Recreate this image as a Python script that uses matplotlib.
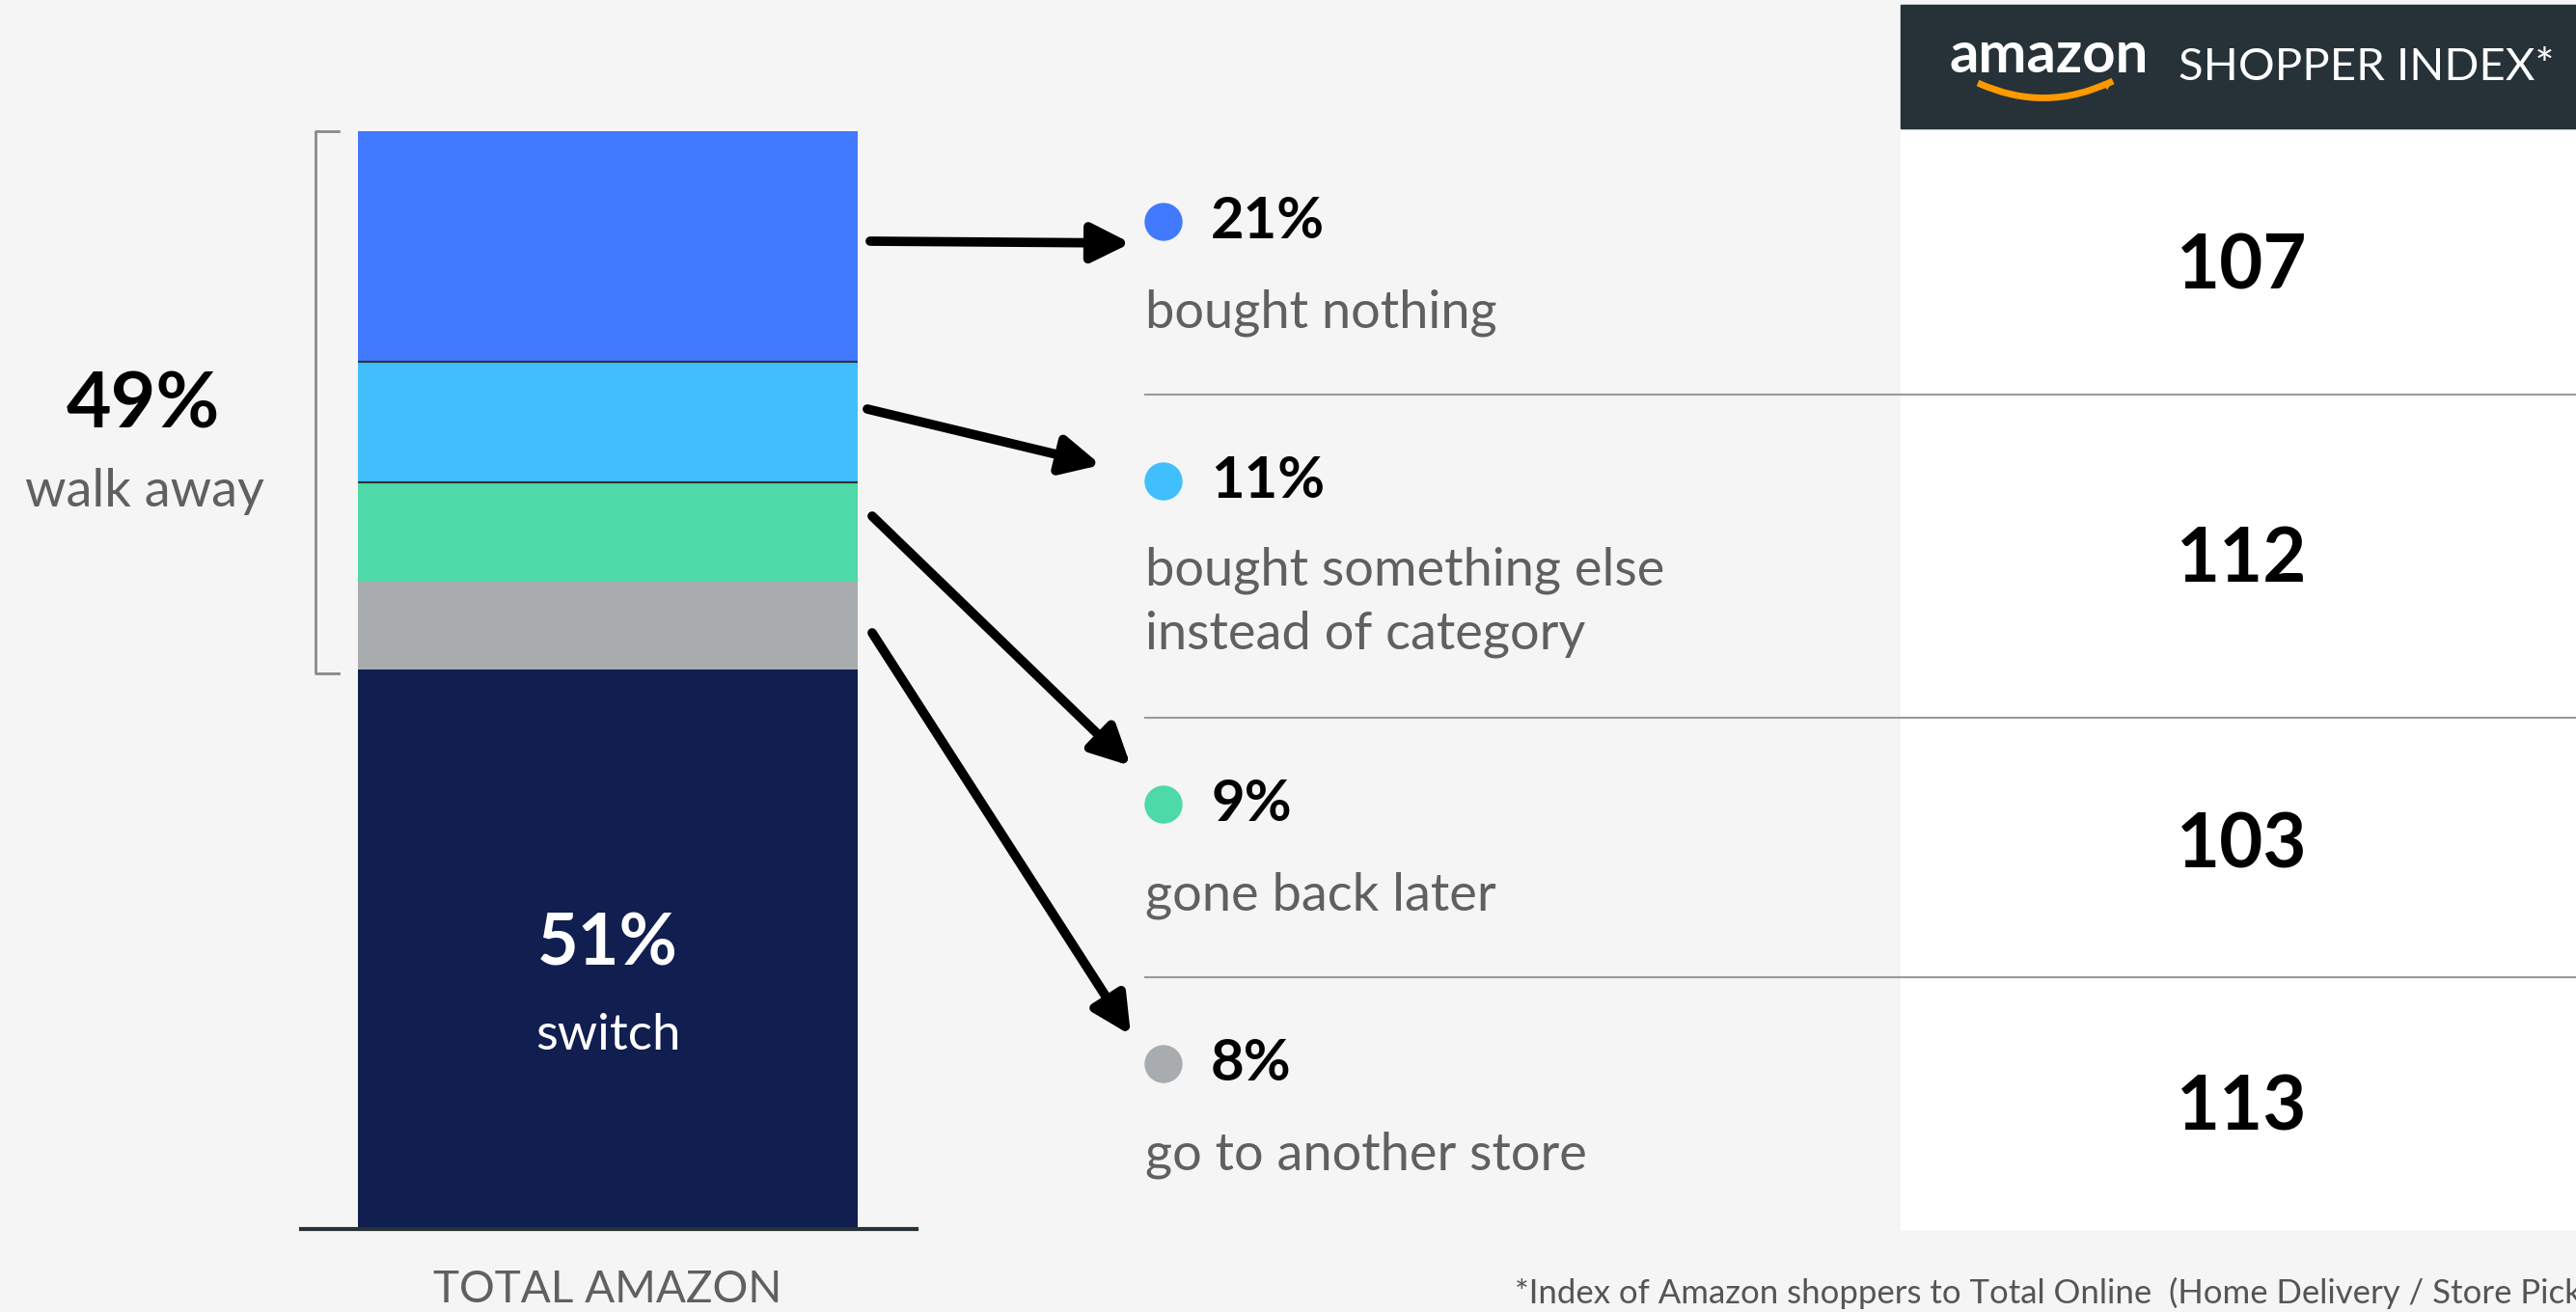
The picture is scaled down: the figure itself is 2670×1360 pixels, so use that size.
import numpy as np
import matplotlib.pyplot as plt
from matplotlib.patches import Rectangle, Circle, FancyArrowPatch, PathPatch
from matplotlib.path import Path

# stacked bar, bottom to top
segments = ['switch', 'go to another store', 'gone back later',
            'bought something else\ninstead of category', 'bought nothing']
shares = [51, 8, 9, 11, 21]
seg_colors = ['#101e50', '#a8acae', '#4dd9a8', '#40bffc', '#427aff']

# right-hand list, top to bottom
walk_labels = ['bought nothing', 'bought something else\ninstead of category',
               'gone back later', 'go to another store']
walk_shares = [21, 11, 9, 8]
walk_colors = ['#427aff', '#40bffc', '#4dd9a8', '#a8acae']
shopper_index = [107, 112, 103, 113]

walk_total = sum(walk_shares)
switch_share = shares[0]

plt.rcParams['font.family'] = ['Lato', 'DejaVu Sans']
W, H = 2670, 1360
fig = plt.figure(figsize=(W / 100, H / 100), dpi=100)
fig.patch.set_facecolor('#f5f5f5')

# bar axes
bar_left, bar_right, bar_top, bar_bottom = 371, 889, 136, 1274
bax = fig.add_axes([bar_left / W, (H - bar_bottom) / H,
                    (bar_right - bar_left) / W, (bar_bottom - bar_top) / H])
bottom = 0
for val, col in zip(shares, seg_colors):
    bax.bar(0, val, bottom=bottom, width=1, color=col, linewidth=0)
    bottom += val
# thin dark lines between the upper segments
bax.axhline(100 - shares[4], color='#333333', lw=1.5)
bax.axhline(100 - shares[4] - shares[3], color='#333333', lw=1.5)
bax.set_xlim(-0.5, 0.5)
bax.set_ylim(0, 100)
bax.axis('off')

# overlay axes in pixel coordinates
ax = fig.add_axes([0, 0, 1, 1], zorder=5)
ax.set_xlim(0, W)
ax.set_ylim(H, 0)
ax.axis('off')
ax.patch.set_alpha(0)

# white index panel + header
ax.add_patch(Rectangle((1970, 136), 700, 1138, color='white', zorder=0))
ax.add_patch(Rectangle((1970, 5), 700, 128, color='#263238', zorder=1))
ax.text(2124, 58, 'amazon', color='white', fontsize=43, fontweight='bold',
        ha='center', va='center', zorder=3)
smile = Path([(2050, 86), (2120, 118), (2190, 84)],
             [Path.MOVETO, Path.CURVE3, Path.CURVE3])
ax.add_patch(PathPatch(smile, fill=False, edgecolor='#ff9900', lw=5, zorder=3))
ax.add_patch(FancyArrowPatch((2180, 90), (2192, 82), arrowstyle='-|>',
                             mutation_scale=18, color='#ff9900', lw=0, zorder=3))
ax.text(2258, 70, 'SHOPPER INDEX*', color='white', fontsize=34,
        ha='left', va='center', zorder=3)

# baseline and bar labels
ax.plot([312, 950], [1274, 1274], color='#263238', lw=3, zorder=4)
ax.text(630, 1337, 'TOTAL AMAZON', color='#606060', fontsize=33,
        ha='center', va='center')
ax.text(630, 979, f'{switch_share}%', color='white', fontsize=53,
        ha='center', va='center', fontweight='bold')
ax.text(630, 1073, 'switch', color='white', fontsize=38,
        ha='center', va='center')

# bracket for walk away
ax.plot([351, 327, 327, 351], [136, 136, 698, 698], color='#8a8a8a', lw=2)
ax.text(148, 420, f'{walk_total}%', color='black', fontsize=58,
        ha='center', va='center', fontweight='bold')
ax.text(150, 509, 'walk away', color='#606060', fontsize=39,
        ha='center', va='center')

# arrows from bar to list
arrows = [((902, 250), (1172, 252)), ((899, 424), (1141, 482)),
          ((904, 535), (1172, 794)), ((904, 656), (1172, 1073))]
for start, end in arrows:
    ax.add_patch(FancyArrowPatch(start, end, arrowstyle='-|>', mutation_scale=60,
                                 color='black', lw=7, shrinkA=0, shrinkB=0,
                                 zorder=4))

# list rows
dot_y = [230, 499, 834, 1103]
desc_y = [324, 624, 928, 1197]
idx_y = [278, 581, 877, 1149]
for i in range(len(walk_labels)):
    ax.add_patch(Circle((1206, dot_y[i]), 19, color=walk_colors[i], zorder=4))
    ax.text(1255, dot_y[i], f'{walk_shares[i]}%', color='black', fontsize=43,
            ha='left', va='center', fontweight='bold')
    ax.text(1187, desc_y[i], walk_labels[i], color='#606060', fontsize=39,
            ha='left', va='center', linespacing=1.4)
    ax.text(2324, idx_y[i], str(shopper_index[i]), color='black', fontsize=56,
            ha='center', va='center', fontweight='bold', zorder=3)

for y in [409, 744, 1013]:
    ax.plot([1187, W], [y, y], color='#9a9a9a', lw=1.5, zorder=2)

# footnote runs off the right edge, as in the original
ax.text(1570, 1340, '*Index of Amazon shoppers to Total Online  (Home Delivery / Store Pick-up)',
        color='#555555', fontsize=25, ha='left', va='center')

fig.savefig('out.png', dpi=100, facecolor=fig.get_facecolor())
